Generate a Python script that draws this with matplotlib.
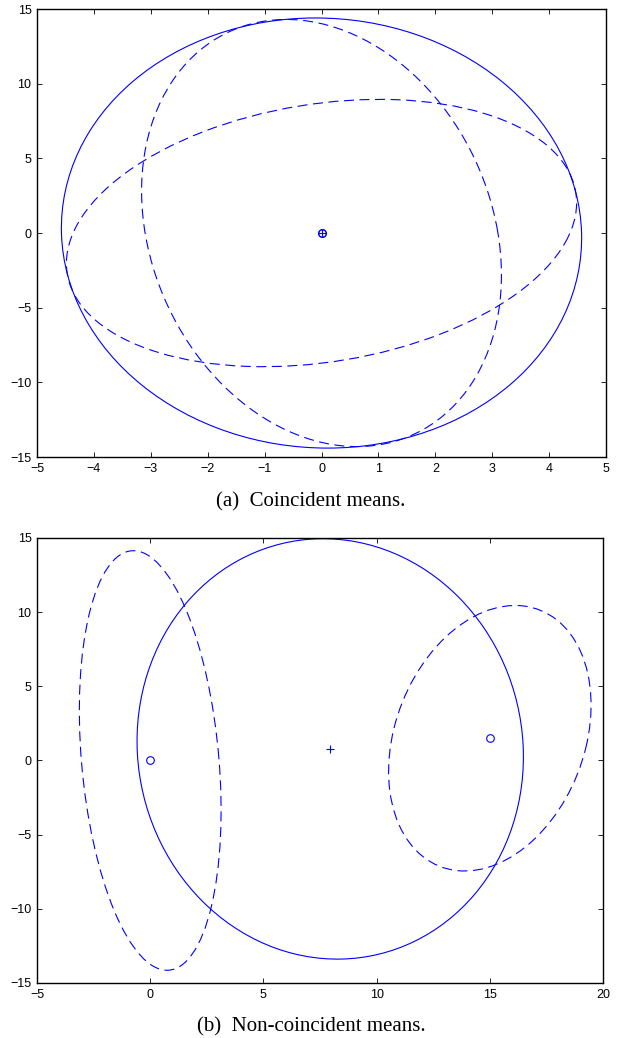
import numpy as np
import matplotlib
matplotlib.use("Agg")
import matplotlib.pyplot as plt
from matplotlib.patches import Ellipse

# (a) coincident means: two components + merged ellipse (covariances as [sxx, sxy, syy])
a_means = [[0.0, 0.0], [0.0, 0.0]]
a_covs = [[20.1, 9.1, 80.1], [10.0, -8.9, 204.5]]
a_merged_mean = [0.0, 0.0]
a_merged_cov = [20.9, -1.5, 207.4]

# (b) non-coincident means
b_means = [[0.0, 0.0], [15.0, 1.5]]
b_covs = [[9.8, -10.5, 200.0], [20.0, 10.0, 80.1]]
b_merged_mean = [7.95, 0.78]
b_merged_cov = [72.8, -4.5, 200.8]

a_xticks = np.arange(-5, 6, 1)
b_xticks = np.arange(-5, 21, 5)
yticks = np.arange(-15, 16, 5)

plt.rcParams['font.family'] = ['Liberation Sans', 'DejaVu Sans']


def cov_ellipse(mean, cov, **kw):
    S = np.array([[cov[0], cov[1]], [cov[1], cov[2]]])
    vals, vecs = np.linalg.eigh(S)
    ang = np.degrees(np.arctan2(vecs[1, 1], vecs[0, 1]))
    return Ellipse(mean, 2 * np.sqrt(vals[1]), 2 * np.sqrt(vals[0]), angle=ang,
                   fill=False, **kw)


def style_axes(ax, xt):
    ax.set_xticks(xt)
    ax.set_yticks(yticks)
    ax.set_xlim(xt[0], xt[-1])
    ax.set_ylim(-15, 15)
    ax.tick_params(direction='in', top=True, right=True, length=3.5, width=0.6,
                   labelsize=9, pad=4)
    ax.set_xticklabels([str(v).replace('-', '\u2212') for v in xt])
    ax.set_yticklabels([str(v).replace('-', '\u2212') for v in yticks])
    for s in ax.spines.values():
        s.set_linewidth(1.0)


fig = plt.figure(figsize=(6.18, 10.38), dpi=100)
ax1 = fig.add_axes([0.0599, 0.5597, 0.9207, 0.4316])
ax2 = fig.add_axes([0.0599, 0.0530, 0.9159, 0.4287])

dash = (0, (9, 5))
blue = (0, 0, 1)

for m, c in zip(a_means, a_covs):
    ax1.add_patch(cov_ellipse(m, c, edgecolor=blue, lw=0.8, linestyle=dash))
ax1.add_patch(cov_ellipse(a_merged_mean, a_merged_cov, edgecolor=blue, lw=0.8))
ax1.plot([m[0] for m in a_means], [m[1] for m in a_means], 'o', color=blue,
         mfc='none', ms=5.5, mew=0.8)
ax1.plot(a_merged_mean[0], a_merged_mean[1], '+', color=blue, ms=5.5, mew=0.8)
style_axes(ax1, a_xticks)

for m, c in zip(b_means, b_covs):
    ax2.add_patch(cov_ellipse(m, c, edgecolor=blue, lw=0.8, linestyle=dash))
ax2.add_patch(cov_ellipse(b_merged_mean, b_merged_cov, edgecolor=blue, lw=0.8))
ax2.plot([m[0] for m in b_means], [m[1] for m in b_means], 'o', color=blue,
         mfc='none', ms=5.5, mew=0.8)
ax2.plot(b_merged_mean[0], b_merged_mean[1], '+', color=blue, ms=5.5, mew=0.8)
style_axes(ax2, b_xticks)

fig.text(0.502, 1 - 506 / 1038, '(a)  Coincident means.', ha='center', va='baseline',
         fontsize=15, family=['Liberation Serif', 'DejaVu Serif'])
fig.text(0.503, 1 - 1031 / 1038, '(b)  Non-coincident means.', ha='center', va='baseline',
         fontsize=15, family=['Liberation Serif', 'DejaVu Serif'])

fig.savefig('out.png', dpi=100)
